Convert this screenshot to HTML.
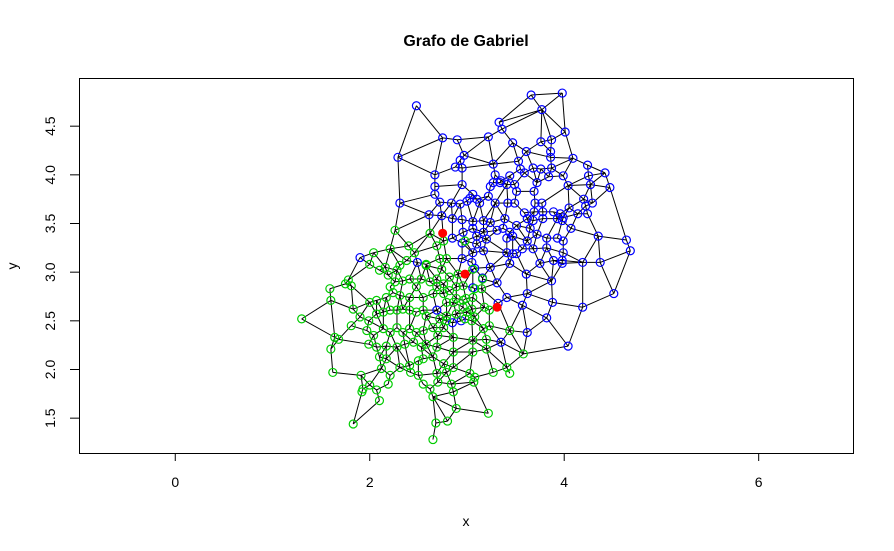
<!DOCTYPE html>
<html><head><meta charset="utf-8">
<style>
html,body{margin:0;padding:0;background:#fff;}
svg{display:block;font-family:"Liberation Sans",Arial,sans-serif;}
</style></head>
<body>
<svg id="chart" width="894" height="551" viewBox="0 0 894 551" xmlns="http://www.w3.org/2000/svg">
<rect x="0" y="0" width="894" height="551" fill="#fff"/>
<text x="466" y="46" text-anchor="middle" font-size="16" font-weight="bold">Grafo de Gabriel</text>
<text x="466" y="526" text-anchor="middle" font-size="14">x</text>
<text x="17" y="266" text-anchor="middle" font-size="14" transform="rotate(-90 17 266)">y</text>
<g id="edges"></g>
<g id="points"></g>
<g id="axes"></g>
<rect x="79.5" y="78.5" width="774" height="375" fill="none" stroke="#000" stroke-width="1"/>
</svg>
<script>
const xTicks=[0,2,4,6];
const yTicks=[1.5,2.0,2.5,3.0,3.5,4.0,4.5];
const blueX=[2.48,3.66,3.98,3.77,3.33,3.36,2.75,2.90,3.22,4.01,3.76,3.87,3.47,3.61,3.86,3.86,2.29,2.97,4.09,2.93,2.88,2.95,3.27,3.53,3.68,3.76,3.87,4.24,4.42,2.67,3.55,3.59,3.84,3.99,3.29,3.44,4.25,3.27,3.34,3.41,3.24,3.49,3.35,3.72,4.04,4.27,4.47,2.95,2.67,3.51,3.69,2.31,2.67,2.72,2.84,2.93,3.00,3.03,3.06,3.10,3.13,3.22,3.29,3.42,3.49,3.70,3.77,4.05,4.20,4.22,4.29,4.24,4.14,3.89,3.96,3.99,3.93,3.98,3.59,3.69,3.78,2.61,2.74,2.85,2.95,3.06,3.17,3.24,3.39,3.31,3.37,3.44,3.51,3.41,3.47,3.62,3.68,3.78,3.65,3.72,3.82,4.07,4.35,4.64,4.68,3.06,3.17,3.10,3.20,2.96,2.95,2.85,3.93,3.99,3.62,3.57,3.68,3.82,3.10,3.17,3.06,2.95,3.05,3.41,3.47,3.89,3.98,4.19,4.37,1.90,2.49,2.69,2.94,2.85,3.31,3.41,3.57,3.62,3.62,3.35,3.82,4.04,3.32,3.08,3.16,3.24,3.06,3.61,3.75,3.87,3.88,3.98,3.99,3.44,3.51,4.51,4.19];
const blueY=[4.71,4.82,4.84,4.67,4.54,4.47,4.38,4.36,4.39,4.44,4.34,4.36,4.33,4.24,4.24,4.18,4.18,4.20,4.17,4.15,4.08,4.07,4.11,4.14,4.07,4.06,4.07,4.10,4.02,4.00,4.06,4.02,3.98,3.99,4.00,3.99,3.99,3.92,3.92,3.90,3.88,3.90,3.94,3.92,3.89,3.90,3.87,3.90,3.88,3.83,3.83,3.71,3.80,3.72,3.71,3.70,3.73,3.76,3.80,3.75,3.71,3.78,3.71,3.71,3.71,3.71,3.71,3.66,3.75,3.68,3.71,3.60,3.60,3.62,3.60,3.56,3.55,3.53,3.61,3.62,3.62,3.59,3.58,3.55,3.54,3.52,3.53,3.51,3.55,3.43,3.45,3.41,3.48,3.35,3.37,3.55,3.53,3.55,3.45,3.39,3.35,3.45,3.37,3.33,3.22,3.45,3.41,3.37,3.34,3.41,3.30,3.35,3.35,3.32,3.32,3.24,3.24,3.25,3.29,3.22,3.20,3.14,3.10,3.20,3.19,3.12,3.12,3.10,3.10,3.15,3.10,2.61,2.50,2.48,2.89,2.74,2.66,2.78,2.38,2.28,2.53,2.24,2.68,3.04,2.94,3.05,2.84,2.98,3.09,2.91,2.69,3.09,3.20,3.09,3.19,2.78,2.64];
const greenX=[2.62,2.69,2.76,2.98,2.58,2.26,2.40,2.46,2.21,2.04,2.00,2.16,2.31,2.38,2.58,2.53,2.69,2.74,2.79,2.72,2.10,2.19,2.28,2.26,2.21,2.34,2.41,2.48,2.62,2.69,2.76,2.82,2.91,2.89,2.96,3.06,3.16,3.15,3.08,2.99,3.06,2.96,2.89,1.78,1.81,1.75,1.59,1.60,2.00,2.07,2.17,2.24,2.31,2.41,2.55,2.65,2.76,2.82,2.79,2.86,2.96,3.05,3.08,3.18,3.23,1.30,1.83,1.90,1.99,2.07,2.14,2.21,2.28,2.34,2.41,2.48,2.55,2.58,2.72,2.79,2.89,2.98,3.05,3.00,1.81,1.97,2.04,2.14,2.21,2.28,2.34,2.41,2.48,2.55,2.65,2.76,2.79,2.70,2.86,3.06,3.17,3.20,3.23,3.44,1.64,1.68,1.60,1.99,2.07,2.17,2.28,2.36,2.45,2.53,2.58,2.69,2.86,3.06,3.20,3.58,2.10,2.17,2.31,2.41,2.50,2.55,2.65,2.76,2.86,3.03,3.08,3.07,3.27,3.44,3.41,1.62,1.91,2.12,2.21,2.42,2.50,2.69,2.79,2.84,2.19,2.00,1.93,2.07,2.10,1.92,2.62,2.70,2.55,2.65,2.86,2.89,3.22,1.83,2.68,2.80,2.65];
const greenY=[3.40,3.27,3.32,3.32,3.08,3.43,3.27,3.20,3.24,3.20,3.08,3.05,3.07,3.12,3.07,2.93,2.93,3.03,3.14,3.14,3.02,2.97,3.02,2.90,2.85,2.91,2.93,2.85,2.90,2.85,2.88,2.95,2.98,2.85,2.86,3.03,2.93,2.83,2.83,2.73,2.74,2.71,2.73,2.92,2.86,2.88,2.83,2.71,2.69,2.71,2.74,2.79,2.76,2.74,2.74,2.78,2.78,2.81,2.69,2.69,2.64,2.62,2.54,2.64,2.61,2.52,2.62,2.54,2.50,2.57,2.59,2.61,2.61,2.62,2.61,2.59,2.61,2.55,2.52,2.55,2.57,2.52,2.50,2.59,2.45,2.40,2.35,2.42,2.38,2.43,2.38,2.42,2.38,2.40,2.43,2.43,2.50,2.35,2.33,2.30,2.42,2.31,2.45,2.40,2.33,2.31,2.21,2.26,2.23,2.24,2.23,2.26,2.28,2.23,2.26,2.23,2.18,2.18,2.21,2.16,2.13,2.11,2.02,2.04,2.09,2.11,2.13,2.06,2.02,1.96,1.92,1.87,1.97,1.96,2.02,1.97,1.94,2.01,1.94,1.97,1.94,1.96,1.97,1.85,1.85,1.84,1.80,1.79,1.68,1.77,1.80,1.87,1.85,1.72,1.77,1.60,1.55,1.44,1.45,1.47,1.28];
const redX=[2.75,2.98,3.31];
const redY=[3.40,2.98,2.64];

const NS="http://www.w3.org/2000/svg";
const X0=79,X1=853,Y0=453,Y1=78;
const xmin=-0.99,xmax=6.97,ymin=1.142,ymax=4.995;
function sx(v){return X0+(v-xmin)/(xmax-xmin)*(X1-X0);}
function sy(v){return Y0-(v-ymin)/(ymax-ymin)*(Y0-Y1);}
function mk(tag,attrs,parent){const e=document.createElementNS(NS,tag);for(const k in attrs)e.setAttribute(k,attrs[k]);parent.appendChild(e);return e;}

const axes=document.getElementById('axes');
mk('line',{x1:sx(xTicks[0]),x2:sx(xTicks[xTicks.length-1]),y1:453.5,y2:453.5,stroke:'#000'},axes);
xTicks.forEach(t=>{
  const l=mk('line',{x1:sx(t),x2:sx(t),y1:453.5,y2:461,stroke:'#000'},axes);
  
  
  const tx=mk('text',{x:sx(t),y:487,'text-anchor':'middle','font-size':'14'},axes);
  tx.textContent=String(t);
  
  
});
mk('line',{x1:79.5,x2:79.5,y1:sy(yTicks[0]),y2:sy(yTicks[yTicks.length-1]),stroke:'#000'},axes);
yTicks.forEach(t=>{
  const y=sy(t);
  const l=mk('line',{x1:70,x2:79.5,y1:y,y2:y,stroke:'#000'},axes);
  
  
  const tx=mk('text',{x:55,y:y,'text-anchor':'middle','font-size':'14',transform:'rotate(-90 55 '+y+')'},axes);
  tx.textContent=t.toFixed(1);
  
  
});

const P=[];
blueX.forEach((v,i)=>P.push([sx(v),sy(blueY[i]),'blue']));
greenX.forEach((v,i)=>P.push([sx(v),sy(greenY[i]),'#00cc00']));
const edges=document.getElementById('edges');
const n=P.length;
for(let i=0;i<n;i++){for(let j=i+1;j<n;j++){
  const mx=(P[i][0]+P[j][0])/2,my=(P[i][1]+P[j][1])/2;
  const dx=P[i][0]-P[j][0],dy=P[i][1]-P[j][1];
  const r2=(dx*dx+dy*dy)/4;
  let ok=true;
  for(let k=0;k<n;k++){if(k===i||k===j)continue;
    const ex=P[k][0]-mx,ey=P[k][1]-my;
    if(ex*ex+ey*ey<r2){ok=false;break;}}
  if(ok){
    const l=mk('line',{x1:P[i][0],y1:P[i][1],x2:P[j][0],y2:P[j][1],stroke:'#000','stroke-width':'1'},edges);
    
    
  }
}}
const pts=document.getElementById('points');
P.forEach(p=>{
  const c=mk('circle',{cx:p[0],cy:p[1],r:4,fill:'none',stroke:p[2],'stroke-width':'1.2'},pts);
  
  
});
redX.forEach((v,i)=>{
  const c=mk('circle',{cx:sx(v),cy:sy(redY[i]),r:4,fill:'#ff0000',stroke:'#ff0000'},pts);
  
  
});
</script>
</body></html>
